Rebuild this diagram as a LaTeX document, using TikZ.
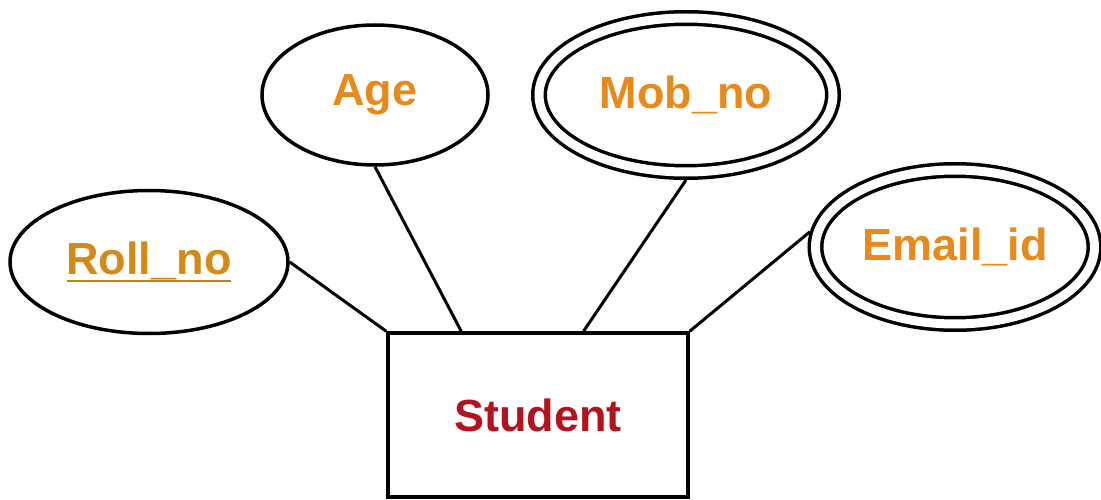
\documentclass[tikz,border=0pt]{standalone}
\usepackage{fontspec}
\setmainfont{Liberation Sans}
\usetikzlibrary{shapes.geometric,calc}

\definecolor{attrorange}{HTML}{E8891C}
\definecolor{keygold}{HTML}{D48A14}
\definecolor{keyline}{HTML}{B8861A}
\definecolor{entityred}{HTML}{B3121F}

% key attribute: text with a solid bar underneath
\newcommand\keyattr[1]{%
  \setbox0=\hbox{#1}%
  \rlap{\raisebox{-8pt}{\color{keyline}\rule{\wd0}{2.6pt}}}\box0}

\tikzset{
  label font/.style={font=\fontsize{45}{45}\selectfont\bfseries},
  attr/.style={ellipse, draw=black, line width=3.5pt, fill=white, inner sep=0pt,
               label font, text=attrorange},
  multiattr/.style={attr, double, double distance=9pt, outer sep=8pt},
  entity/.style={rectangle, draw=black, line width=3.5pt, fill=white, inner sep=0pt,
                 label font, text=entityred},
  link/.style={draw=black, line width=3pt}
}

\begin{document}
\begin{tikzpicture}[x=1pt, y=-1pt]
  \useasboundingbox (0,0) rectangle (1101,500);

  % entity
  \node[entity, minimum width=300pt, minimum height=164pt] (stud) at (538,415) {Student};

  % attributes
  \node[attr, minimum width=278pt, minimum height=143pt, text=keygold] (roll) at (149,262)
    {\keyattr{Roll\_no}};
  \node[attr, minimum width=226pt, minimum height=140pt] (age) at (375,95) {Age};
  \node[multiattr, minimum width=294pt, minimum height=154pt] (mob) at (686,95) {Mob\_no};
  \node[multiattr, minimum width=279pt, minimum height=154pt] (email) at (955,247) {Email\_id};

  % links from attributes to the entity
  \draw[link] (roll.east) -- (stud.north west);
  \draw[link] (age.south) -- ($(stud.north west)!0.247!(stud.north east)$);
  \draw[link] (mob.south) -- ($(stud.north west)!0.65!(stud.north east)$);
  \draw[link] (email.174) -- (stud.north east);
\end{tikzpicture}
\end{document}
